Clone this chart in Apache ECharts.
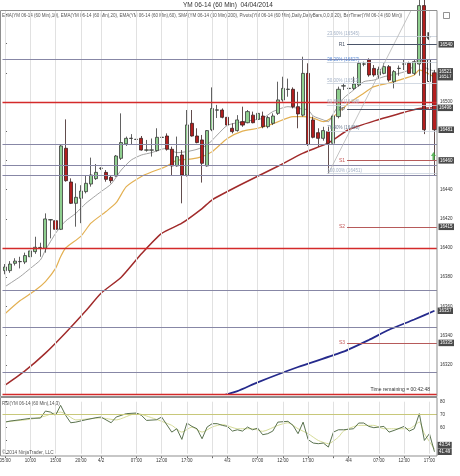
<!DOCTYPE html>
<html><head><meta charset="utf-8">
<script src="https://cdn.jsdelivr.net/npm/echarts@6/dist/echarts.min.js"></script>
<style>html,body{margin:0;padding:0;background:#fff;}#c{width:460px;height:476px;}</style>
</head><body><div id="c"></div>
<script>
// ---------- data ----------
const tickIdx  = [0,5,10,15,19,26,31,36,41,44,50,55,60,65,68,74,79,84];
const tickText = ["05:00","10:00","15:00","20:00","4/2","07:00","12:00","17:00","","4/3","07:00","12:00","17:00","","4/4","07:00","12:00","17:00"];

const candleOpen = [16384.5,16384.5,16389.5,16390.6,16390.4,16394,16397.5,16400.2,16399.8,16419.2,
 16418.7,16412.8,16468.3,16445.2,16430.6,16434,16438.6,16443.8,16447.5,16454.5,
 16451.8,16448.4,16449.3,16461.4,16471.3,16475,16474.3,16475.1,16467,16467,
 16466.7,16475.7,16476.7,16467.6,16456.2,16463.7,16450,16485.4,16476.7,16474,
 16456.2,16481,16494.4,16494.5,16489.5,16482,16480.4,16486.5,16485.8,16491,
 16488.1,16490.4,16483.1,16485.4,16492.2,16501.4,16508.6,16508.7,16496.8,16491,
 16519.6,16487.7,16479,16475.1,16479.7,16471.7,16490,16510.9,16509.2,16509.3,
 16511.6,16525.9,16528.8,16523,16518.5,16519.6,16524.2,16513.9,16522.9,16525.9,
 16526.5,16519.6,16526,16566,16514,16520];
const candleClose = [16387,16389,16391,16390.8,16394.8,16398,16400.5,16400.4,16419.9,16419.4,
 16412.8,16469.9,16446.1,16430.6,16434.7,16439,16444.3,16450,16451.8,16454.7,
 16447,16446.1,16463,16472.2,16475.1,16475.2,16474.5,16467.1,16467.2,16467.2,
 16475.8,16475.9,16467.6,16456.2,16462.6,16450,16484.3,16476.7,16472.2,16458,
 16480.4,16495.5,16494.6,16489.5,16484.2,16479.7,16487.7,16484.2,16493.4,16485.8,
 16492.2,16483.1,16489.3,16490.4,16501.4,16509.3,16508.8,16496.8,16491.8,16519.6,
 16471.2,16475.8,16475.1,16480.4,16471.7,16490.4,16508.7,16511.1,16509.4,16512.3,
 16526.5,16526.1,16518.5,16518.5,16522.4,16524.2,16515,16520.8,16523.1,16526.1,
 16519.6,16527.6,16566,16481,16529,16481];
const candleLow = [16382,16383,16388,16386,16389,16380,16396,16394,16396.8,16406.6,
 16410,16412.3,16445.4,16430.1,16414.6,16417,16437.4,16442,16446.6,16453.4,
 16445.4,16444.3,16448.9,16460.3,16469.9,16470.6,16472.5,16466.7,16466,16462.6,
 16466,16471.7,16466.7,16450,16455.7,16430.6,16448.9,16476.3,16471.7,16444.8,
 16455.7,16480,16489,16488.8,16480.8,16478.5,16479.7,16483,16485.4,16485.4,
 16485.4,16482,16482,16484.2,16491.1,16500.2,16503.6,16495.6,16482,16490,
 16469.9,16475.1,16469.4,16473.5,16451,16469.4,16488.8,16508.2,16507,16508.2,
 16510.5,16524.5,16517.3,16517.3,16516.2,16519,16513.9,16509.3,16518,16521.9,
 16519.2,16518.5,16518,16478,16513.7,16450];
const candleHigh = [16389,16391,16393,16394,16396.8,16399,16407.7,16403.6,16423.7,16419.8,
 16419.2,16470.5,16488.1,16447.7,16444.3,16443,16450,16461.9,16457.5,16455.3,
 16453.4,16449.3,16463.7,16492.2,16476.3,16478,16476.7,16476.7,16474,16475,
 16482,16483,16478.5,16469.4,16476.3,16467.1,16494.5,16494.5,16482,16477.4,
 16480.8,16510,16498,16495.6,16490,16485.4,16491,16496.8,16494.5,16493.4,
 16492.7,16493.4,16490.4,16492.2,16513.9,16517.3,16516,16510,16507,16531,
 16526.5,16490,16482,16483,16483,16491.8,16510.5,16512.8,16514,16517.3,
 16527.6,16527.6,16529.9,16525.3,16524.2,16526.5,16525.3,16521.9,16525,16528.8,
 16527.6,16529.2,16574,16570,16529,16522];
const hollowBars = [84];

const ema10 = [[0,16373.5],[3,16380.4],[5,16386],[7,16391.8],[8,16398.6],[10,16410],[11,16414.6],[12,16418.5],[14,16423.7],[16,16430.6],[19,16438.6],[21,16443.8],[23,16453.4],[25,16460.3],[27,16463.7],[29,16465.3],[31,16467.6],[32,16468.3],[34,16465.3],[36,16466],[38,16467.6],[40,16470.5],[42,16477.4],[44,16484],[47,16486.5],[51,16488.8],[53,16493.4],[56,16496.8],[58,16495.6],[60,16494.5],[61,16490.4],[63,16487.7],[64,16486.5],[65,16492.2],[67,16502.5],[69,16508.2],[71,16513.9],[73,16515],[75,16517.3],[78,16519.6],[80,16521.9],[81,16525.3],[82,16531],[83,16524],[85,16521]];
const ema20 = [[0,16355],[3,16364],[6,16371],[8,16377],[10,16386],[11,16394],[12,16400],[15,16408],[17,16417],[20,16425],[22,16431],[24,16442],[27,16449],[29,16452],[32,16456],[34,16460],[37,16461],[39,16462.6],[41,16466],[44,16475],[47,16480],[50,16482],[53,16485],[57,16490],[59,16490],[61,16489],[63,16486.5],[65,16490],[68,16499],[71,16506],[73,16510.5],[76,16513],[78,16515],[81,16518.5],[82,16522],[85,16517]];
const ema60 = [[0,16306],[4,16316],[8,16328],[12,16342],[16,16357],[19,16369],[23,16380],[27,16396],[31,16410],[35,16417],[39,16427],[41,16433],[47,16444],[54,16456],[59,16465],[64,16472],[68,16481],[74,16488],[78,16492],[82,16495.5],[85,16496]];
const sma200 = [[42,16298],[46,16302],[50,16308],[58,16318.5],[67,16329],[72,16337],[76,16344],[81,16351],[85,16357]];

const redLevels  = [16500,16400,16300];
const grayLevels = [16529.5,16471,16456.5,16450,16371,16346,16315];

const pivotNames  = ['R1','PP','S1','S2','S3'];
const pivotValues = [16539.5,16495,16460,16414.5,16335];
const pivotBoxed  = [true,false,true,true,true];

const fibNames  = ['23.60%','38.20%','50.00%','61.80%','76.40%','100.00%'];
const fibValues = [16545,16527,16512.5,16498,16480,16451];
const fibAnchor = [[64,16451],[80.4,16563]];

const lastPrice = 16481;

const rsiMain = [[0,64.3],[1,65.1],[3,66.1],[5,67.2],[7,67.4],[8,72.8],[9,72],[10,69.5],[11,77.2],[12,69.5],[13,63.8],[14,64.3],[16,66.1],[18,67.7],[19,68.2],[21,63.8],[22,68.2],[24,70.8],[26,71.3],[27,69.5],[28,65.6],[30,66.1],[31,68.2],[33,56.6],[34,59.2],[35,51],[36,63.6],[37,61],[38,59.2],[39,51.5],[40,60.5],[41,63.1],[42,63.1],[43,61.8],[44,61],[45,57.4],[46,58.4],[47,57.4],[48,60.5],[49,58.4],[50,59.7],[51,54.6],[52,55.4],[53,57.4],[54,64.3],[56,64.9],[57,61.8],[58,55.4],[59,64.3],[60,50.8],[61,48.2],[62,47.7],[63,48.2],[64,45.1],[65,56.6],[66,58.4],[67,58.4],[69,59.2],[70,63.6],[71,63.6],[72,61],[73,60],[75,61],[76,56.6],[77,57.9],[79,61],[80,57.4],[81,59.2],[82,70.8],[83,50.2],[84,55.4],[85,41.49]];
const rsiAvg = [[0,64.5],[5,66.5],[8,69],[9,70.5],[11,72],[12,70.5],[14,66],[19,67.5],[22,66],[26,71],[29,67.7],[33,61.8],[35,56.6],[37,60.5],[39,56.6],[41,60.5],[43,62.5],[46,59.2],[49,59.2],[51,57.2],[54,61.8],[56,63.8],[58,59.2],[60,55.4],[62,50.2],[64,47.7],[66,52.8],[67,57.4],[70,61.8],[73,61.8],[75,59.2],[78,59.2],[80,59.2],[82,64.3],[83,55.4],[85,43.54]];

// ---------- chart ----------
const FONT = 'Liberation Sans, Arial, sans-serif';
const N = candleOpen.length;
const cats = Array.from({length:N}, (_, i) => String(i));
const tickSet = new Set(tickIdx);
const tickMap = {}; tickIdx.forEach((t, k) => tickMap[t] = tickText[k]);
const XMIN = -0.5, XMAX = N - 0.5;
const CLEAR = 'rgba(0,0,0,0)';

const boxLabel = (txt) => ({show:true, position:'end', formatter:txt, backgroundColor:'#4a4a4a', color:'#fff',
  fontSize:4.5, fontFamily:FONT, padding:[1,1.5,0.5,1.5], distance:1.5, opacity:1});

const candleData = candleOpen.map((o, i) => {
  const v = [o, candleClose[i], candleLow[i], candleHigh[i]];
  if (hollowBars.includes(i)) return {value:v, itemStyle:{color:'rgba(255,255,255,0)', borderColor:'#111'}};
  return v;
});

const mlMain = [];
tickIdx.forEach(t => mlMain.push({xAxis:t, lineStyle:{color:'#e1e1e1', width:1, type:'solid'}}));
grayLevels.forEach(v => mlMain.push({yAxis:v, lineStyle:{color:'#8787a6', width:1, type:'solid'}}));
redLevels.forEach(v => mlMain.push({yAxis:v, lineStyle:{color:'#d42a2a', width:1.4, type:'solid'}}));
fibValues.forEach((v, k) => mlMain.push([
  {coord:[63.7, v], lineStyle:{color:'#c8d0dc', width:0.8, type:'solid'},
   label:{show:true, position:'insideStartTop', formatter: fibNames[k] + ' (' + Math.round(v) + ')',
     color: k === 1 ? '#5b8bd6' : (k === 4 ? '#6b7a90' : '#a3b1c6'), fontSize:4.5, fontFamily:FONT, distance:0.5}},
  {coord:[XMAX, v]}]));
mlMain.push([{coord:fibAnchor[0], lineStyle:{color:'#b5b5b5', width:0.8, type:'solid'}}, {coord:fibAnchor[1]}]);
pivotValues.forEach((v, k) => {
  const isS = pivotNames[k][0] === 'S';
  mlMain.push([{coord:[67.7, v], lineStyle:{color: isS ? '#b65a5a' : '#4a5468', width:1, type:'solid'},
    label:{show:true, position:'start', formatter:pivotNames[k], color: isS ? '#c45a5a' : '#4a5468',
      fontSize:5, fontFamily:FONT, distance:2}}, {coord:[XMAX, v]}]);
});

// right-axis value boxes (pivots + last price), drawn on a separate helper so their labels stay opaque
const mlBoxes = [];
pivotValues.forEach((v, k) => {
  if (pivotBoxed[k]) mlBoxes.push([{coord:[XMAX - 0.3, v], label:boxLabel(String(Math.round(v)))}, {coord:[XMAX, v]}]);
});
mlBoxes.push([{coord:[XMAX - 0.3, lastPrice], label:boxLabel(String(Math.round(lastPrice)))}, {coord:[XMAX, lastPrice]}]);

const mlRsi = [];
tickIdx.forEach(t => mlRsi.push({xAxis:t, lineStyle:{color:'#e1e1e1', width:1, type:'solid'}}));
mlRsi.push({yAxis:70, lineStyle:{color:'#c8c87a', width:1, type:'solid'}});

const endBox = (dec) => ({show:true, formatter: p => dec ? p.value[1].toFixed(2) : String(Math.round(p.value[1])),
  backgroundColor:'#4a4a4a', color:'#fff', fontSize:4.5, fontFamily:FONT, padding:[1,1.5,0.5,1.5], distance:3});

const lineSeries = (name, data, color, width, z) => ({
  name, type:'line', xAxisIndex:1, yAxisIndex:0, data, symbol:'none', smooth:0.2, z,
  lineStyle:{color, width}, silent:true, endLabel:endBox(false)
});

const arrowPath = 'path://M5,0 L10,5 L7,5 L7,10 L3,10 L3,5 L0,5 Z';

const option = {
  animation:false,
  backgroundColor:'#fff',
  textStyle:{fontFamily:FONT},
  grid:[
    {left:2.5, right:23, top:10, height:384, outerBoundsMode:'none', containLabel:false},
    {left:2.5, right:23, top:401.7, height:52, outerBoundsMode:'none', containLabel:false}
  ],
  xAxis:[
    {type:'category', gridIndex:0, data:cats, boundaryGap:true, show:false},
    {type:'value', gridIndex:0, min:XMIN, max:XMAX, show:false},
    {type:'category', gridIndex:1, data:cats, boundaryGap:true, offset:2.5,
      axisLine:{show:false},
      axisTick:{show:true, alignWithLabel:true, length:2, interval:(i) => tickSet.has(i), lineStyle:{color:'#666'}},
      axisLabel:{interval:(i) => tickSet.has(i), formatter:(v, i) => tickMap[i] || '', fontSize:4.5, color:'#333', margin:2.5, fontFamily:FONT},
      splitLine:{show:false}},
    {type:'value', gridIndex:1, min:XMIN, max:XMAX, show:false}
  ],
  yAxis:[
    {type:'value', gridIndex:0, position:'right', min:16300, max:16563, interval:20, scale:true,
      axisLine:{show:false}, splitLine:{show:false},
      axisTick:{show:true, length:2, lineStyle:{color:'#666'}},
      axisLabel:{fontSize:4.5, color:'#333', margin:3, fontFamily:FONT,
        formatter:(v) => (v < 16310 || v > 16545) ? '' : String(v)}},
    {type:'value', gridIndex:1, position:'right', min:40, max:80, interval:10,
      axisLine:{show:false}, splitLine:{show:false},
      axisTick:{show:true, length:2, lineStyle:{color:'#666'}},
      axisLabel:{fontSize:4.5, color:'#333', margin:3, fontFamily:FONT,
        formatter:(v) => v < 60 ? '' : String(v)}}
  ],
  series:[
    {type:'line', xAxisIndex:1, yAxisIndex:0, data:[[XMIN,16400]], symbol:'none', lineStyle:{opacity:0}, silent:true, z:1,
      markLine:{silent:true, symbol:'none', animation:false, label:{show:false}, emphasis:{disabled:true}, data:mlMain}},
    lineSeries('EMA60', ema60, '#a12b2b', 1.5, 2),
    lineSeries('EMA20', ema20, '#e3b052', 1.2, 2),
    lineSeries('EMA10', ema10, '#8a8a8a', 0.8, 2),
    lineSeries('SMA200', sma200, '#252a8c', 1.8, 2),
    {type:'candlestick', xAxisIndex:0, yAxisIndex:0, data:candleData, barWidth:3.6, z:3, silent:true, clip:true,
      itemStyle:{color:'#8fcf8f', color0:'#b31e1e', borderColor:'#3a3a3a', borderColor0:'#3a2020', borderWidth:0.8}},
    {type:'scatter', xAxisIndex:1, yAxisIndex:0, z:4, silent:true,
      data:[
        {value:[84.8,16463], symbol:arrowPath, symbolSize:[5,8], itemStyle:{color:'#3aa83a'}},
        {value:[83.8,16545], symbol:arrowPath, symbolSize:[5,8], symbolRotate:180, itemStyle:{color:'#111'}}
      ]},
    {type:'scatter', xAxisIndex:1, yAxisIndex:0, z:4, silent:true, symbolSize:1, itemStyle:{opacity:0},
      data:[
        {value:[84.1,16501], label:{show:true, position:'inside', formatter:'23.60', color:'#c87a3a', fontSize:4.2}},
        {value:[84.1,16478.5], label:{show:true, position:'inside', formatter:'0.00%', color:'#d04a4a', fontSize:4.2}}
      ]},
    {type:'line', xAxisIndex:1, yAxisIndex:0, data:[[XMIN,16400]], symbol:'none', lineStyle:{color:CLEAR}, silent:true, z:5,
      markLine:{silent:true, symbol:'none', animation:false, lineStyle:{color:CLEAR, width:0, type:'solid'},
        label:{show:true}, emphasis:{disabled:true}, data:mlBoxes}},
    {type:'line', xAxisIndex:3, yAxisIndex:1, data:[[XMIN,70]], symbol:'none', lineStyle:{opacity:0}, silent:true, z:1,
      markLine:{silent:true, symbol:'none', animation:false, label:{show:false}, emphasis:{disabled:true}, data:mlRsi}},
    {name:'RSIavg', type:'line', xAxisIndex:2, yAxisIndex:1, data:rsiAvg, symbol:'none', smooth:0.2, z:2, silent:true,
      lineStyle:{color:'#d6dc98', width:1}, endLabel:Object.assign(endBox(true), {offset:[0,-4]})},
    {name:'RSI', type:'line', xAxisIndex:2, yAxisIndex:1, data:rsiMain, symbol:'none', z:3, silent:true,
      lineStyle:{color:'#5b7350', width:1}, endLabel:endBox(true)}
  ],
  graphic:[
    {type:'rect', silent:true, z:50, shape:{x:0.5, y:10.5, width:436.5, height:386}, style:{fill:'none', stroke:'#8f8f8f', lineWidth:1}},
    {type:'rect', silent:true, z:50, shape:{x:0.5, y:397.5, width:436.5, height:58.5}, style:{fill:'none', stroke:'#8f8f8f', lineWidth:1}},
    {type:'rect', silent:true, z:50, shape:{x:443.5, y:12.5, width:6, height:6}, style:{fill:'none', stroke:'#777', lineWidth:0.8}},
    {type:'text', silent:true, z:50, x:228, y:5.5, style:{text:'YM 06-14 (60 Min)  04/04/2014', fill:'#333', fontSize:6.5, fontFamily:FONT, align:'center', verticalAlign:'middle'}},
    {type:'text', silent:true, z:1, x:2, y:16, style:{text:'EMA(YM 06-14 (60 Min),10), EMA(YM 06-14 (60 Min),20), EMA(YM 06-14 (60 Min),60), SMA(YM 06-14 (60 Min),200), Pivots(YM 06-14 (60 Min),Daily,DailyBars,0,0,0,20), BarTimer(YM 06-14 (60 Min))', fill:'#555', fontSize:4.5, fontFamily:FONT, align:'left', verticalAlign:'middle'}},
    {type:'text', silent:true, z:50, x:430, y:389.5, style:{text:'Time remaining = 00:42:48', fill:'#333', fontSize:5, fontFamily:FONT, align:'right', verticalAlign:'middle'}},
    {type:'text', silent:true, z:50, x:2, y:404, style:{text:'RSI(YM 06-14 (60 Min),14,3)', fill:'#555', fontSize:4.5, fontFamily:FONT, align:'left', verticalAlign:'middle'}},
    {type:'text', silent:true, z:50, x:2, y:452.5, style:{text:'\u00a9 2014 NinjaTrader, LLC', fill:'#555', fontSize:4.7, fontFamily:FONT, align:'left', verticalAlign:'middle'}}
  ]
};

const chart = echarts.init(document.getElementById('c'), null, {renderer:'canvas', width:460, height:476});
chart.setOption(option);
</script>
</body></html>
